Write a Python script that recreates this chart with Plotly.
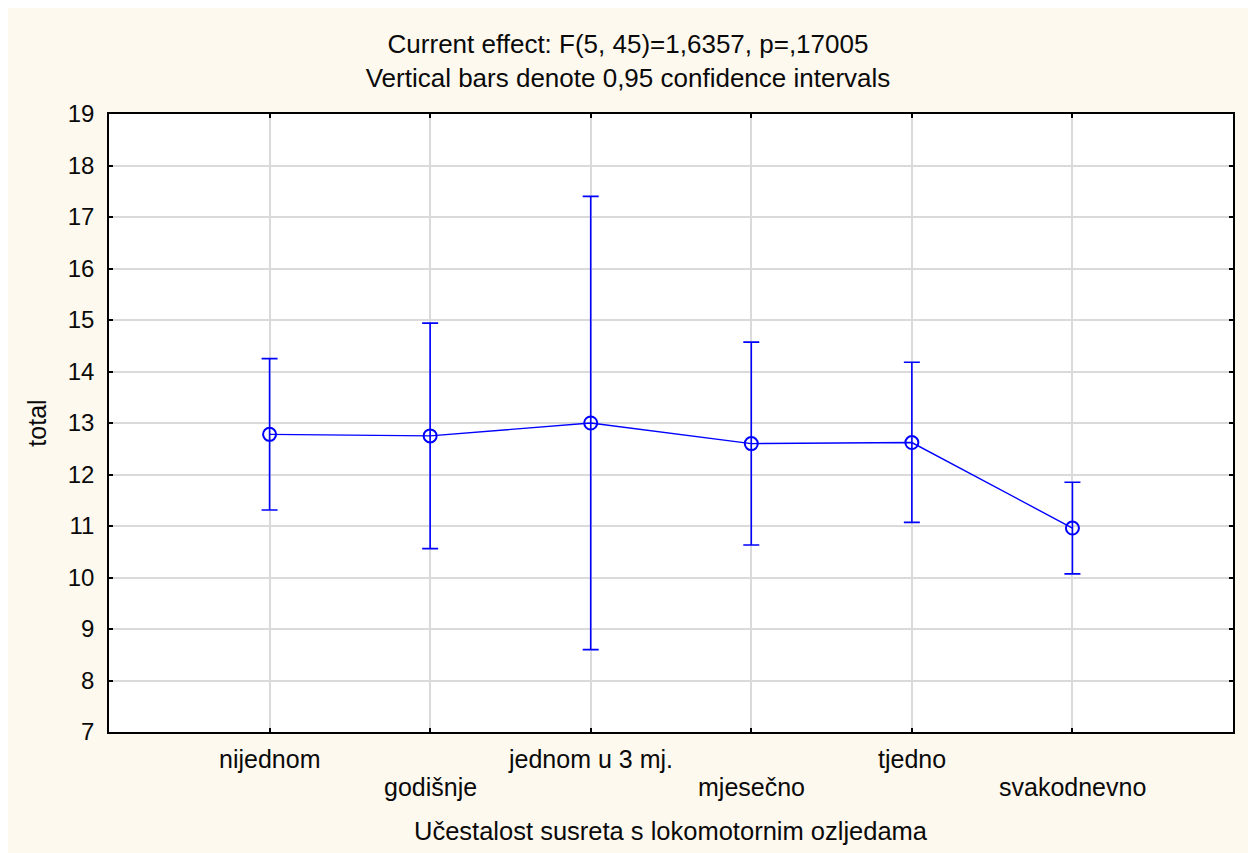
import plotly.graph_objects as go

categories = ["nijednom", "godišnje", "jednom u 3 mj.", "mjesečno", "tjedno", "svakodnevno"]
means = [12.78, 12.75, 13.00, 12.60, 12.62, 10.96]
upper = [14.25, 14.94, 17.40, 14.57, 14.18, 11.85]
lower = [11.31, 10.56, 8.60, 10.63, 11.07, 10.07]
y_ticks = list(range(7, 20))

title_text = "Current effect: F(5, 45)=1,6357, p=,17005<br>Vertical bars denote 0,95 confidence intervals"
x_title = "Učestalost susreta s lokomotornim ozljedama"
y_title = "total"

W, H = 1256, 853
L, R, T, B = 101, 31, 106, 129
PH = H - T - B
BG = "#FEF9EE"
FONT = "Liberation Sans, Arial, sans-serif"
TXT = "#0A0A0A"

xpos = list(range(len(categories)))
err_plus = [u - m for u, m in zip(upper, means)]
err_minus = [m - l for m, l in zip(means, lower)]

fig = go.Figure()
fig.add_trace(go.Scatter(
    x=xpos, y=means, mode="lines+markers",
    line=dict(color="#0000FF", width=1.4),
    marker=dict(symbol="circle-open", size=13, color="#0000FF", line=dict(width=2, color="#0000FF")),
    error_y=dict(type="data", symmetric=False, array=err_plus, arrayminus=err_minus,
                 color="#0000FF", thickness=1.6, width=8),
    showlegend=False,
))

# staggered category labels, positioned on the x axis scale
row_y = [-27 / PH, -55 / PH]
for i, c in enumerate(categories):
    fig.add_annotation(x=xpos[i], xref="x", y=row_y[i % 2], yref="paper",
                       text=c, showarrow=False, xanchor="center", yanchor="middle",
                       font=dict(size=25, color=TXT, family=FONT))

fig.add_annotation(x=0.5, xref="paper", y=-99 / PH, yref="paper", text=x_title,
                   showarrow=False, xanchor="center", yanchor="middle",
                   font=dict(size=25.5, color=TXT, family=FONT))

fig.update_layout(
    width=W, height=H,
    margin=dict(l=L, r=R, t=T, b=B),
    paper_bgcolor=BG, plot_bgcolor="white",
    font=dict(family=FONT, size=24, color=TXT),
    title=dict(text=title_text, x=(628 - 8) / W, xanchor="center", y=1 - 45 / H, yanchor="middle",
               yref="container", font=dict(size=26, color=TXT)),
)
fig.update_xaxes(
    range=[-1, 6], tickvals=xpos, showticklabels=False,
    showgrid=True, gridcolor="#DADADA", gridwidth=1.6,
    showline=True, linecolor="black", linewidth=1.5, mirror="ticks",
    ticks="inside", ticklen=4, tickcolor="black", tickwidth=1.5,
    zeroline=False,
)
fig.update_yaxes(
    range=[7, 19], tickvals=y_ticks, tickfont=dict(size=24, color=TXT),
    showgrid=True, gridcolor="#DADADA", gridwidth=1.6,
    showline=True, linecolor="black", linewidth=1.5, mirror="ticks",
    ticks="inside", ticklen=4, tickcolor="black", tickwidth=1.5,
    zeroline=False, ticklabelstandoff=8,
    title=dict(text=y_title, standoff=14, font=dict(size=25)),
)

fig.write_html("out.html")
